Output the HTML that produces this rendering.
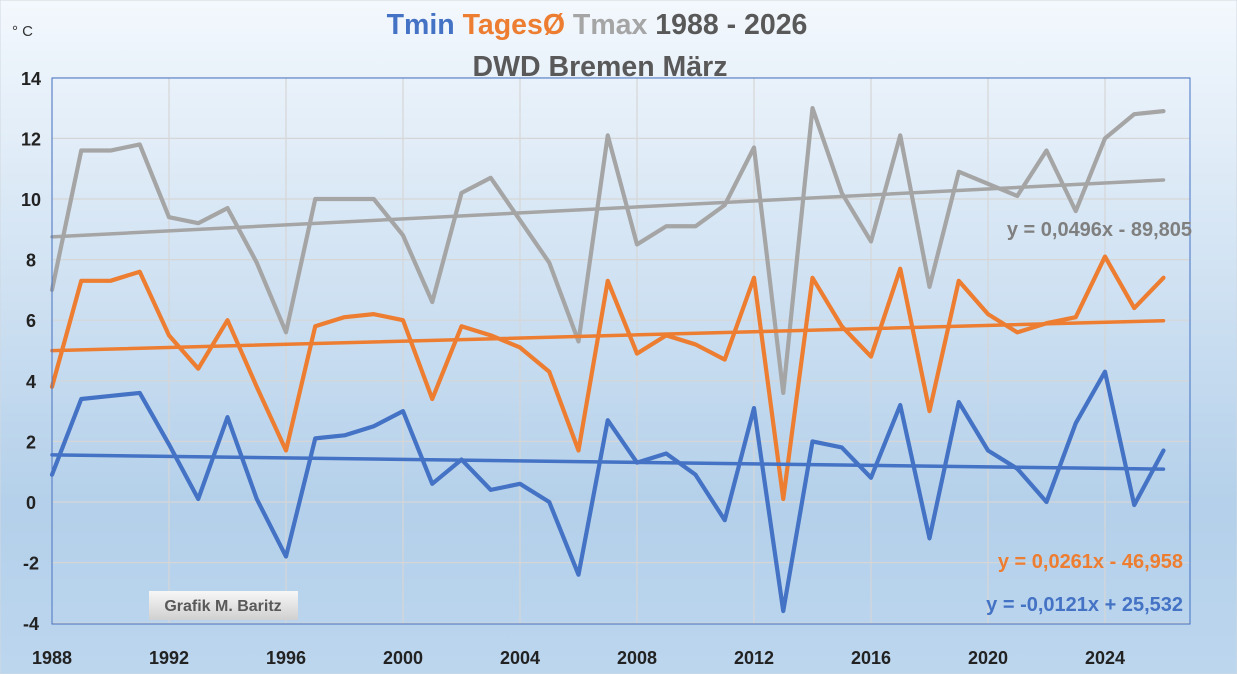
<!DOCTYPE html>
<html><head><meta charset="utf-8"><style>
html,body{margin:0;padding:0;width:1237px;height:674px;overflow:hidden}
svg{display:block;font-family:"Liberation Sans",sans-serif}
</style></head><body>
<svg id="chart" width="1237" height="674" viewBox="0 0 1237 674">
<defs>
<linearGradient id="bg" x1="0" y1="0" x2="0" y2="1">
<stop offset="0" stop-color="#f3f8fd"/><stop offset="0.75" stop-color="#b4d0ea"/><stop offset="1" stop-color="#bcd6ee"/>
</linearGradient>
<linearGradient id="box" x1="0" y1="0" x2="0" y2="1">
<stop offset="0" stop-color="#f7f7f7"/><stop offset="1" stop-color="#d0d0d0"/>
</linearGradient>
</defs>
<rect x="0" y="0" width="1237" height="674" fill="url(#bg)" stroke="#d0d8e0"/>
<g id="grid"></g>
<g id="axes"></g>
<g id="series"></g>
<rect x="52" y="78" width="1138" height="546" fill="none" stroke="#4472C4" stroke-width="1"/>
<text x="597" y="34" text-anchor="middle" font-size="28.5" font-weight="bold"><tspan fill="#4472C4">Tmin </tspan><tspan fill="#ED7D31">TagesØ </tspan><tspan fill="#A5A5A5">Tmax </tspan><tspan fill="#595959">1988 - 2026</tspan></text>
<text x="600" y="76" text-anchor="middle" font-size="28.5" font-weight="bold" fill="#595959">DWD Bremen März</text>
<text x="12" y="36" font-size="15" fill="#333">° C</text>
<text x="1192" y="236" text-anchor="end" font-size="20" font-weight="bold" fill="#7f7f7f">y = 0,0496x - 89,805</text>
<text x="1183" y="568" text-anchor="end" font-size="20" font-weight="bold" fill="#ED7D31">y = 0,0261x - 46,958</text>
<text x="1183" y="611" text-anchor="end" font-size="20" font-weight="bold" fill="#4472C4">y = -0,0121x + 25,532</text>
<g>
<rect x="149" y="591" width="149" height="29" fill="url(#box)"/>
<text x="223" y="611" text-anchor="middle" font-size="16" font-weight="bold" fill="#595959">Grafik M. Baritz</text>
</g>
</svg>
<script>
const years = [];
for (let y = 1988; y <= 2026; y++) years.push(y);
const tmax = [7.0,11.6,11.6,11.8,9.4,9.2,9.7,7.9,5.6,10.0,10.0,10.0,8.8,6.6,10.2,10.7,9.3,7.9,5.3,12.1,8.5,9.1,9.1,9.8,11.7,3.6,13.0,10.2,8.6,12.1,7.1,10.9,10.5,10.1,11.6,9.6,12.0,12.8,12.9];
const tages = [3.8,7.3,7.3,7.6,5.5,4.4,6.0,3.8,1.7,5.8,6.1,6.2,6.0,3.4,5.8,5.5,5.1,4.3,1.7,7.3,4.9,5.5,5.2,4.7,7.4,0.1,7.4,5.8,4.8,7.7,3.0,7.3,6.2,5.6,5.9,6.1,8.1,6.4,7.4];
const tmin = [0.9,3.4,3.5,3.6,1.9,0.1,2.8,0.1,-1.8,2.1,2.2,2.5,3.0,0.6,1.4,0.4,0.6,0.0,-2.4,2.7,1.3,1.6,0.9,-0.6,3.1,-3.6,2.0,1.8,0.8,3.2,-1.2,3.3,1.7,1.1,0.0,2.6,4.3,-0.1,1.7];
const yTicks = [14,12,10,8,6,4,2,0,-2,-4];
const xTicks = [1988,1992,1996,2000,2004,2008,2012,2016,2020,2024];

const NS = "http://www.w3.org/2000/svg";
const X0 = 52, PXY = 29.25, Y0 = 502, PXV = 30.3;
function xs(y){ return X0 + (y - 1988) * PXY; }
function ys(v){ return Y0 - v * PXV; }
function mk(tag, attrs, parent){ const e = document.createElementNS(NS, tag); for (const k in attrs) e.setAttribute(k, attrs[k]); parent.appendChild(e); return e; }

const grid = document.getElementById('grid'), axes = document.getElementById('axes'), ser = document.getElementById('series');
yTicks.forEach(t => {
  const l = mk('line', {x1:52, x2:1190, y1:ys(t), y2:ys(t), stroke:'#d6d6d6', 'stroke-width':1.2}, grid);
  
  
  const tx = mk('text', {x:31, y:ys(t)+7, 'text-anchor':'middle', 'font-size':18, 'font-weight':'bold', fill:'#222'}, axes);
  tx.textContent = t;
  
  
});
xTicks.forEach(t => {
  const l = mk('line', {x1:xs(t), x2:xs(t), y1:78, y2:624, stroke:'#d6d6d6', 'stroke-width':1.2}, grid);
  
  
  const tx = mk('text', {x:xs(t), y:664, 'text-anchor':'middle', 'font-size':18, 'font-weight':'bold', fill:'#222'}, axes);
  tx.textContent = t;
  
  
});

function trend(vals){
  const n = vals.length; let sx=0, sy=0, sxx=0, sxy=0;
  for (let i=0;i<n;i++){ sx+=years[i]; sy+=vals[i]; sxx+=years[i]*years[i]; sxy+=years[i]*vals[i]; }
  const m = (n*sxy - sx*sy)/(n*sxx - sx*sx); const b = (sy - m*sx)/n;
  return [m,b];
}
function drawSeries(vals, color, name){
  const [m,b] = trend(vals);
  const y1 = years[0], y2 = years[years.length-1];
  const tl = mk('line', {x1:xs(y1), y1:ys(m*y1+b), x2:xs(y2), y2:ys(m*y2+b), stroke:color, 'stroke-width':3.5, 'stroke-linecap':'round'}, ser);
  
  
  const pts = vals.map((v,i) => xs(years[i]) + ',' + ys(v)).join(' ');
  const pl = mk('polyline', {points:pts, fill:'none', stroke:color, 'stroke-width':4.2, 'stroke-linejoin':'round', 'stroke-linecap':'round'}, ser);
  
  
}
drawSeries(tmax, '#A5A5A5', 'tmax');
drawSeries(tages, '#ED7D31', 'tages-mittel');
drawSeries(tmin, '#4472C4', 'tmin');
</script>
</body></html>
